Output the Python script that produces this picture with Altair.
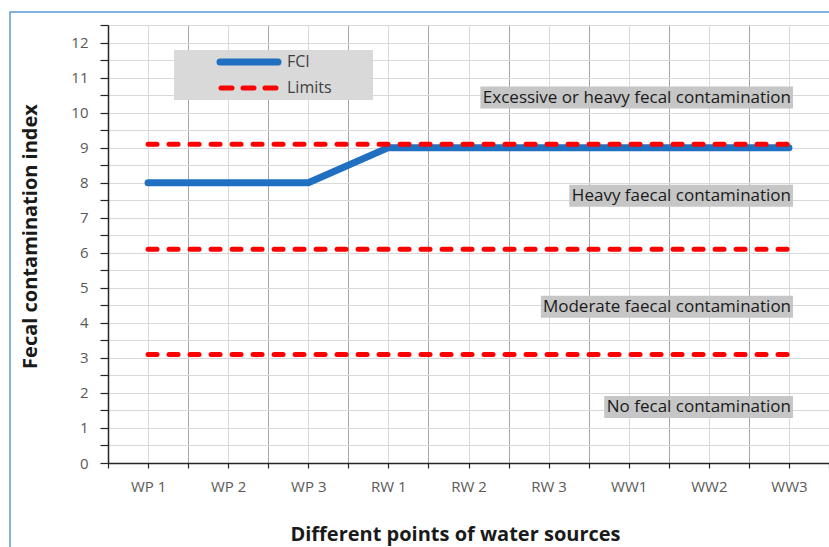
import json

import altair as alt
import pandas as pd

# Sampling points and their faecal contamination index
sites = ["WP 1", "WP 2", "WP 3", "RW 1", "RW 2", "RW 3", "WW1", "WW2", "WW3"]
fci = [8, 8, 8, 9, 9, 9, 9, 9, 9]

# Class limits drawn as dashed reference lines
limits = [3.1, 6.1, 9.1]

# Contamination classes written inside the plot
zone_labels = [
    "Excessive or heavy fecal contamination",
    "Heavy faecal contamination",
    "Moderate faecal contamination",
    "No fecal contamination",
]
zone_y = [10.43, 7.63, 4.46, 1.6]

legend_series = ["FCI", "Limits"]

BLUE = "#1f70c1"
RED = "#ff0000"
FONT = "Open Sans"
W, H = 721, 438
X_MAX = len(sites)
Y_MAX = 12.5
PX_X = W / X_MAX
PX_Y = H / Y_MAX
ZONE_SIZE = 17

# Approximate Open Sans advance widths (units per 2048 em) used to size
# the grey label boxes.
_ADV = {
    " ": 532, "a": 1139, "c": 975, "d": 1255, "e": 1149, "f": 694,
    "h": 1257, "i": 518, "l": 518, "m": 1905, "n": 1257, "o": 1237,
    "r": 836, "s": 977, "t": 723, "v": 1051, "x": 1032, "y": 1053,
    "E": 1147, "H": 1511, "M": 1849, "N": 1604,
}


def text_width(s, size):
    return sum(_ADV.get(ch, 1150) for ch in s) / 2048 * size


fci_df = pd.DataFrame(
    {"site": sites, "pos": [i + 0.5 for i in range(len(sites))], "value": fci}
)
limit_df = pd.DataFrame(
    [
        {"level": lv, "site": s, "pos": i + 0.5, "value": lv}
        for lv in limits
        for i, s in enumerate(sites)
    ]
)
zone_df = pd.DataFrame({"label": zone_labels, "y": zone_y})
zone_df["w"] = [text_width(s, ZONE_SIZE) for s in zone_labels]
legend_df = pd.DataFrame({"series": legend_series})
one_row = pd.DataFrame({"k": [0]})

x_scale = alt.Scale(domain=[0, X_MAX], nice=False, zero=False)
y_scale = alt.Scale(domain=[0, Y_MAX], nice=False, zero=True)

x_axis = alt.Axis(
    values=[i / 2 for i in range(2 * X_MAX + 1)],
    labelExpr=f"datum.value % 1 === 0.5 ? {json.dumps(sites)}[floor(datum.value)] : ''",
    title="Different points of water sources",
    titleFont=FONT,
    titleFontSize=20,
    titleFontWeight="bold",
    titleColor="#1a1a1a",
    titleX=347,
    titleY=77,
    titleBaseline="alphabetic",
    titleAnchor="start",
    titleAlign="center",
    labelFont=FONT,
    labelFontSize=15,
    labelColor="#595959",
    labelPadding=11,
    labelFlush=False,
    labelOverlap=False,
    grid=True,
    gridColor={
        "condition": {"test": "datum.value % 1 === 0", "value": "#a6a6a6"},
        "value": "#d9d9d9",
    },
    gridWidth=1,
    domainColor="#262626",
    domainWidth=1.5,
    tickColor="#262626",
    tickSize=5,
    tickWidth=1.2,
)

y_axis = alt.Axis(
    values=[i / 2 for i in range(int(2 * Y_MAX) + 1)],
    labelExpr="datum.value % 1 === 0 ? format(datum.value, 'd') : ''",
    title="Fecal contamination index",
    titleFont=FONT,
    titleFontSize=20,
    titleFontWeight="bold",
    titleColor="#1a1a1a",
    titleX=-78,
    titleY=211,
    titleBaseline="middle",
    labelFont=FONT,
    labelFontSize=15,
    labelColor="#595959",
    labelPadding=12,
    labelFlush=False,
    labelOverlap=False,
    grid=True,
    gridColor="#d9d9d9",
    gridWidth=1,
    domainColor="#262626",
    domainWidth=1.5,
    tickColor="#262626",
    tickSize=8,
    tickWidth=1.2,
)

# Outer frame of the figure
frame = alt.Chart(one_row).mark_rect(
    fill=None, stroke="#5b9bd5", strokeWidth=1.5
).encode(
    x=alt.value(-98), x2=alt.value(900), y=alt.value(-13), y2=alt.value(700)
)

limit_lines = alt.Chart(limit_df).mark_line(
    color=RED, strokeWidth=5, strokeDash=[9, 12], strokeCap="round"
).encode(
    x=alt.X("pos:Q", scale=x_scale, axis=x_axis),
    y=alt.Y("value:Q", scale=y_scale, axis=y_axis),
    detail="level:N",
    order="pos:Q",
)

fci_line = alt.Chart(fci_df).mark_line(
    color=BLUE, strokeWidth=7, strokeCap="round", strokeJoin="round"
).encode(
    x=alt.X("pos:Q", scale=x_scale, axis=x_axis),
    y=alt.Y("value:Q", scale=y_scale, axis=y_axis),
    order="pos:Q",
)

# Grey boxes behind the class labels, sized from the label width
X_RIGHT = X_MAX - 0.449
zone_boxes = alt.Chart(zone_df).transform_calculate(
    x0=f"{X_RIGHT} - (datum.w + 4) / {PX_X}",
    y0=f"datum.y - 11 / {PX_Y}",
    y1=f"datum.y + 11 / {PX_Y}",
).mark_rect(color="#c6c6c6").encode(
    x=alt.X("x0:Q", scale=x_scale, axis=x_axis),
    x2=alt.X2(datum=X_RIGHT),
    y=alt.Y("y0:Q", scale=y_scale, axis=y_axis),
    y2="y1:Q",
)

zone_text = alt.Chart(zone_df).mark_text(
    align="right", baseline="middle", font=FONT, fontSize=ZONE_SIZE,
    color="#1a1a1a", dx=-2
).encode(
    x=alt.X(datum=X_RIGHT, scale=x_scale, axis=x_axis),
    y=alt.Y("y:Q", scale=y_scale, axis=y_axis),
    text="label:N",
)

# Legend box
legend_box = alt.Chart(one_row).mark_rect(color="#d9d9d9").encode(
    x=alt.value(66), x2=alt.value(265), y=alt.value(25), y2=alt.value(75)
)
legend_fci = alt.Chart(legend_df).transform_filter(
    "datum.series === 'FCI'"
).mark_rule(color=BLUE, strokeWidth=7, strokeCap="round").encode(
    x=alt.value(112), x2=alt.value(170), y=alt.value(37)
)
legend_lim = alt.Chart(legend_df).transform_filter(
    "datum.series === 'Limits'"
).mark_rule(color=RED, strokeWidth=5, strokeCap="round", strokeDash=[11, 11]).encode(
    x=alt.value(113), x2=alt.value(172), y=alt.value(63)
)
legend_fci_txt = alt.Chart(legend_df).transform_filter(
    "datum.series === 'FCI'"
).mark_text(align="left", baseline="middle", font=FONT, fontSize=16, color="#404040").encode(
    x=alt.value(179), y=alt.value(37), text="series:N"
)
legend_lim_txt = alt.Chart(legend_df).transform_filter(
    "datum.series === 'Limits'"
).mark_text(align="left", baseline="middle", font=FONT, fontSize=16, color="#404040").encode(
    x=alt.value(179), y=alt.value(63), text="series:N"
)

chart = alt.layer(
    fci_line,
    frame,
    zone_boxes,
    zone_text,
    legend_box,
    legend_fci,
    legend_lim,
    legend_fci_txt,
    legend_lim_txt,
    limit_lines,
).properties(
    width=W,
    height=H,
    autosize=alt.AutoSizeParams(type="none"),
    padding={"left": 108, "top": 25, "right": 0, "bottom": 84},
    background="white",
).configure_view(stroke=None)

chart.save("out.html", embed_options={"renderer": "svg", "actions": False})
